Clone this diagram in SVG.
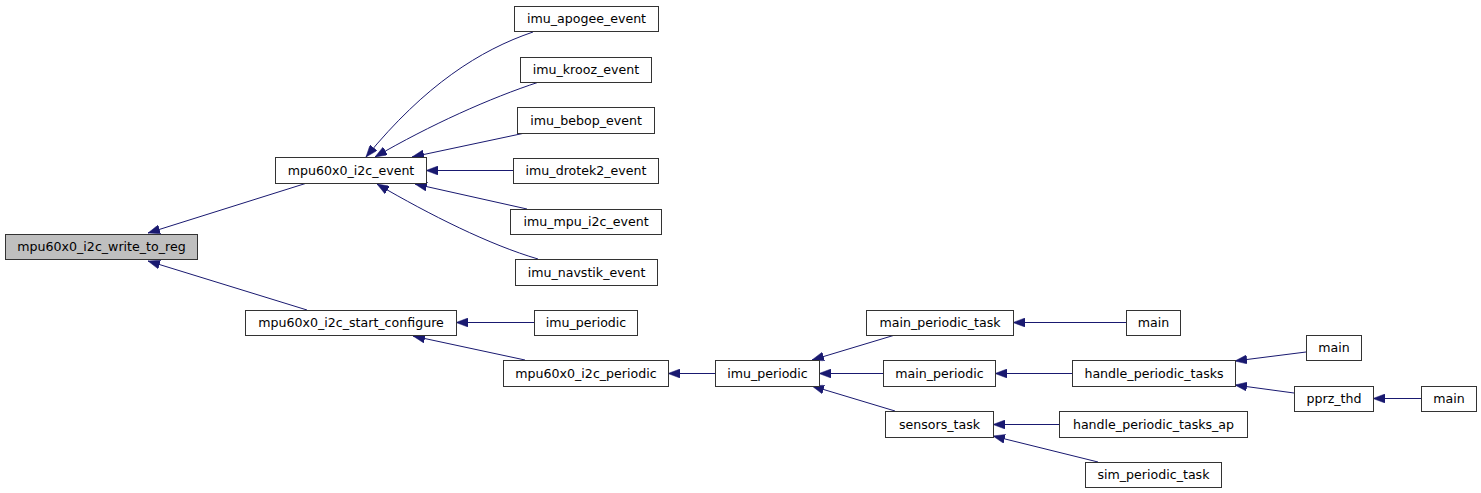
<svg xmlns="http://www.w3.org/2000/svg" width="1481" height="493" viewBox="0 0 1481 493">
<style>
.n rect{fill:#fff;stroke:#333;stroke-width:1}
.n text{font-family:"DejaVu Sans",sans-serif;font-size:12.6px;fill:#000;text-anchor:middle}
#n0 rect{fill:#bfbfbf}
.e path{fill:none;stroke:#191970;stroke-width:1;marker-end:url(#ah)}
</style>
<defs>
<marker id="ah" viewBox="0 0 12 9" refX="12" refY="4.5" markerWidth="12" markerHeight="9" markerUnits="userSpaceOnUse" orient="auto">
<path d="M0,0 L12,4.5 L0,9 z" fill="#191970" stroke="#191970" stroke-width="0.5"/>
</marker>
</defs>
<rect width="1481" height="493" fill="#fff"/>
<g id="edges" class="e">
<path d="M307,183 L148,233"/>
<path d="M307,310 L148,261"/>
<path d="M533,32 C480,50 425,85 366,157"/>
<path d="M539,82 C490,98 430,125 375,157"/>
<path d="M525,133 L412,157"/>
<path d="M513,170.5 L426,170.5"/>
<path d="M527,209 L415,184"/>
<path d="M538,259 C490,245 430,215 377,184"/>
<path d="M534,322.5 L456,322.5"/>
<path d="M525,360 L413,336"/>
<path d="M715,373.5 L668,373.5"/>
<path d="M895,335 L812,360"/>
<path d="M883,373.5 L819,373.5"/>
<path d="M895,411 L812,386"/>
<path d="M1126,322.5 L1013,322.5"/>
<path d="M1072,373.5 L995,373.5"/>
<path d="M1059,424.5 L993,424.5"/>
<path d="M1098,462 L993,436"/>
<path d="M1306,352 L1235,361"/>
<path d="M1294,393 L1235,385"/>
<path d="M1421,398.5 L1373,398.5"/>
</g>
<g id="n0" class="n"><rect x="5.5" y="234.5" width="192" height="25"/><text x="101.5" y="251">mpu60x0_i2c_write_to_reg</text></g>
<g id="n1" class="n"><rect x="275.5" y="157.5" width="151" height="26"/><text x="351" y="174.5">mpu60x0_i2c_event</text></g>
<g id="n2" class="n"><rect x="245.5" y="310.5" width="211" height="25"/><text x="351" y="327">mpu60x0_i2c_start_configure</text></g>
<g id="n3" class="n"><rect x="514.5" y="6.5" width="144" height="25"/><text x="586.5" y="23">imu_apogee_event</text></g>
<g id="n4" class="n"><rect x="520.5" y="57.5" width="131" height="25"/><text x="586" y="74">imu_krooz_event</text></g>
<g id="n5" class="n"><rect x="517.5" y="107.5" width="137" height="26"/><text x="586" y="124.5">imu_bebop_event</text></g>
<g id="n6" class="n"><rect x="513.5" y="158.5" width="145" height="25"/><text x="586" y="175">imu_drotek2_event</text></g>
<g id="n7" class="n"><rect x="510.5" y="209.5" width="151" height="25"/><text x="586" y="226">imu_mpu_i2c_event</text></g>
<g id="n8" class="n"><rect x="515.5" y="259.5" width="142" height="26"/><text x="586.5" y="276.5">imu_navstik_event</text></g>
<g id="n9" class="n"><rect x="534.5" y="310.5" width="103" height="25"/><text x="586" y="327">imu_periodic</text></g>
<g id="n10" class="n"><rect x="503.5" y="360.5" width="165" height="26"/><text x="586" y="377.5">mpu60x0_i2c_periodic</text></g>
<g id="n11" class="n"><rect x="715.5" y="360.5" width="104" height="26"/><text x="767.5" y="377.5">imu_periodic</text></g>
<g id="n12" class="n"><rect x="866.5" y="310.5" width="147" height="25"/><text x="940" y="327">main_periodic_task</text></g>
<g id="n13" class="n"><rect x="883.5" y="360.5" width="112" height="26"/><text x="939.5" y="377.5">main_periodic</text></g>
<g id="n14" class="n"><rect x="885.5" y="411.5" width="108" height="26"/><text x="939.5" y="428.5">sensors_task</text></g>
<g id="n15" class="n"><rect x="1126.5" y="310.5" width="54" height="25"/><text x="1153.5" y="327">main</text></g>
<g id="n16" class="n"><rect x="1072.5" y="360.5" width="163" height="26"/><text x="1154" y="377.5">handle_periodic_tasks</text></g>
<g id="n17" class="n"><rect x="1306.5" y="335.5" width="55" height="25"/><text x="1334" y="352">main</text></g>
<g id="n18" class="n"><rect x="1294.5" y="386.5" width="79" height="25"/><text x="1334" y="403">pprz_thd</text></g>
<g id="n19" class="n"><rect x="1421.5" y="386.5" width="55" height="25"/><text x="1449" y="403">main</text></g>
<g id="n20" class="n"><rect x="1059.5" y="411.5" width="188" height="26"/><text x="1153.5" y="428.5">handle_periodic_tasks_ap</text></g>
<g id="n21" class="n"><rect x="1085.5" y="462.5" width="136" height="25"/><text x="1153.5" y="479">sim_periodic_task</text></g>
</svg>
